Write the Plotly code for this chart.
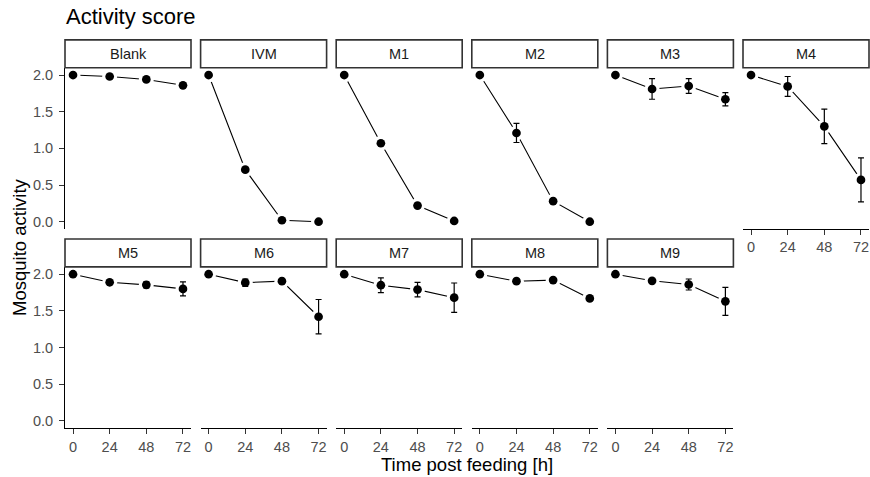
import plotly.graph_objects as go

# ---- data ----
times = [0, 24, 48, 72]
panels = ["Blank", "IVM", "M1", "M2", "M3", "M4", "M5", "M6", "M7", "M8", "M9"]
blank = [2.0, 1.98, 1.94, 1.86]
blank_se = [0.0, 0.02, 0.02, 0.03]
ivm = [2.0, 0.71, 0.02, 0.0]
ivm_se = [0.0, 0.02, 0.01, 0.0]
m1 = [2.0, 1.07, 0.22, 0.01]
m1_se = [0.0, 0.02, 0.02, 0.01]
m2 = [2.0, 1.21, 0.28, 0.0]
m2_se = [0.0, 0.13, 0.02, 0.0]
m3 = [2.0, 1.81, 1.85, 1.67]
m3_se = [0.0, 0.14, 0.10, 0.09]
m4 = [2.0, 1.845, 1.30, 0.57]
m4_se = [0.0, 0.135, 0.235, 0.30]
m5 = [2.0, 1.89, 1.855, 1.80]
m5_se = [0.0, 0.02, 0.04, 0.095]
m6 = [2.0, 1.885, 1.905, 1.42]
m6_se = [0.0, 0.05, 0.02, 0.235]
m7 = [2.0, 1.85, 1.79, 1.68]
m7_se = [0.0, 0.10, 0.10, 0.20]
m8 = [2.0, 1.905, 1.92, 1.67]
m8_se = [0.0, 0.02, 0.02, 0.02]
m9 = [2.0, 1.91, 1.86, 1.63]
m9_se = [0.0, 0.02, 0.075, 0.19]
values = [blank, ivm, m1, m2, m3, m4, m5, m6, m7, m8, m9]
errors = [blank_se, ivm_se, m1_se, m2_se, m3_se, m4_se, m5_se, m6_se, m7_se, m8_se, m9_se]
y_ticks = [0.0, 0.5, 1.0, 1.5, 2.0]
y_ticktext = ["0.0", "0.5", "1.0", "1.5", "2.0"]
x_ticktext = ["0", "24", "48", "72"]

W, H = 870, 477
FONT = "Liberation Sans, Arial, sans-serif"

col_lefts = [65, 200.6, 336.2, 471.8, 607.4, 743]
panel_w = 126
rows = [  # (strip_top, panel_top, panel_bottom)
    (39, 67, 229),
    (239, 267, 429),
]

fig = go.Figure()
layout_axes = {}
shapes = []
annotations = []

for i, name in enumerate(panels):
    r, c = divmod(i, 6)
    left = col_lefts[c]
    right = left + panel_w
    s_top, p_top, p_bot = rows[r]
    k = "" if i == 0 else str(i + 1)
    xa, ya = "x" + k, "y" + k
    show_x = (r == 1) or (i == 5)
    show_y = (c == 0)

    fig.add_trace(go.Scatter(x=times, y=values[i], mode="lines",
                             line=dict(color="black", width=1.1),
                             xaxis=xa, yaxis=ya, hoverinfo="skip", showlegend=False))
    fig.add_trace(go.Scatter(x=times, y=values[i], mode="markers",
                             marker=dict(color="white", size=15),
                             xaxis=xa, yaxis=ya, hoverinfo="skip", showlegend=False))
    fig.add_trace(go.Scatter(x=times, y=values[i], mode="markers",
                             marker=dict(color="black", size=8.7),
                             error_y=dict(type="data", array=errors[i], visible=True,
                                          color="black", thickness=1.2, width=3),
                             xaxis=xa, yaxis=ya, showlegend=False, name=name))

    layout_axes["xaxis" + k] = dict(
        domain=[left / W, right / W], anchor=ya, range=[-5.25, 77.25],
        showgrid=False, zeroline=False,
        showline=show_x, linecolor="black", linewidth=1.1,
        ticks="outside" if show_x else "", ticklen=5, tickwidth=1.1, tickcolor="#333333",
        tickvals=times, ticktext=x_ticktext, showticklabels=show_x,
        tickfont=dict(family=FONT, size=14.5, color="#4D4D4D"),
        ticklabelstandoff=0, fixedrange=True,
    )
    layout_axes["yaxis" + k] = dict(
        domain=[1 - p_bot / H, 1 - p_top / H], anchor=xa, range=[-0.1, 2.1],
        showgrid=False, zeroline=False,
        showline=show_y, linecolor="black", linewidth=1.1,
        ticks="outside" if show_y else "", ticklen=5, tickwidth=1.1, tickcolor="#333333",
        tickvals=y_ticks, ticktext=y_ticktext, showticklabels=show_y,
        tickfont=dict(family=FONT, size=14.5, color="#4D4D4D"),
        ticklabelstandoff=3, fixedrange=True,
    )

    shapes.append(dict(type="rect", xref="paper", yref="paper",
                       x0=left / W, x1=right / W, y0=1 - p_top / H, y1=1 - s_top / H,
                       line=dict(color="#333333", width=1.6), fillcolor="white", layer="above"))
    annotations.append(dict(text=name, xref="paper", yref="paper",
                            x=(left + right) / 2 / W, y=1 - (s_top + p_top) / 2 / H,
                            xanchor="center", yanchor="middle", showarrow=False,
                            font=dict(family=FONT, size=14.5, color="#1A1A1A")))

annotations.append(dict(text="Activity score", xref="paper", yref="paper",
                        x=64 / W, y=1 - 15.5 / H, xanchor="left", yanchor="middle",
                        showarrow=False, font=dict(family=FONT, size=22, color="black")))
annotations.append(dict(text="Time post feeding [h]", xref="paper", yref="paper",
                        x=467 / W, y=1 - 465.5 / H, xanchor="center", yanchor="middle",
                        showarrow=False, font=dict(family=FONT, size=18.5, color="black")))
annotations.append(dict(text="Mosquito activity", xref="paper", yref="paper",
                        x=20 / W, y=1 - 248 / H, xanchor="center", yanchor="middle",
                        textangle=-90, showarrow=False,
                        font=dict(family=FONT, size=18.5, color="black")))

fig.update_layout(
    width=W, height=H, margin=dict(l=0, r=0, t=0, b=0),
    paper_bgcolor="white", plot_bgcolor="white",
    shapes=shapes, annotations=annotations, showlegend=False,
    **layout_axes,
)

fig.write_html("out.html", config={"displayModeBar": False},
               post_script="document.body.style.margin='0';document.body.style.overflow='hidden';")
